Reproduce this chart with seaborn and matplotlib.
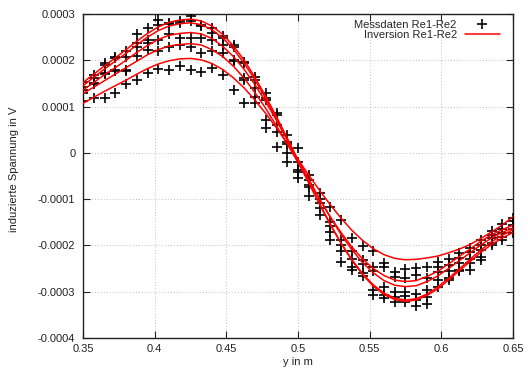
import numpy as np
import pandas as pd
import matplotlib
matplotlib.use("Agg")
import matplotlib.pyplot as plt
import seaborn as sns
from matplotlib.lines import Line2D
from matplotlib.ticker import FixedLocator, FixedFormatter

# ---------------- data (voltages in microvolt) ----------------
pos_m = [0.35, 0.3575, 0.365, 0.3725, 0.38, 0.3875, 0.395, 0.4025, 0.41, 0.4175,
         0.425, 0.4325, 0.44, 0.4475, 0.455, 0.4625, 0.47, 0.4775, 0.485, 0.4925,
         0.5, 0.5075, 0.515, 0.5225, 0.53, 0.5375, 0.545, 0.5525, 0.56, 0.5675,
         0.575, 0.5825, 0.59, 0.5975, 0.605, 0.6125, 0.62, 0.6275, 0.635, 0.6425, 0.65]

inv_1 = [152, 170, 188, 205, 223, 241, 258, 272, 282, 287, 289, 285, 274, 256, 231, 200, 163, 122, 78, 32,
         -16, -64, -110, -154, -195, -232, -263, -288, -306, -317, -321, -318, -308, -294, -275, -255, -235,
         -215, -198, -184, -172]
inv_2 = [145, 163, 181, 198, 215, 233, 250, 264, 274, 279, 281, 277, 266, 248, 224, 193, 158, 117, 74, 28,
         -19, -65, -111, -155, -195, -230, -261, -285, -303, -314, -318, -315, -305, -290, -271, -251, -230,
         -210, -192, -178, -166]
inv_3 = [136, 152, 169, 184, 200, 217, 232, 245, 254, 258, 260, 257, 247, 230, 208, 180, 147, 110, 70, 28,
         -15, -57, -99, -139, -176, -209, -237, -259, -276, -286, -289, -287, -278, -266, -250, -233, -216,
         -199, -184, -172, -162]
inv_4 = [128, 142, 156, 170, 184, 198, 212, 223, 231, 234, 236, 233, 223, 208, 187, 161, 130, 96, 58, 19,
         -21, -61, -100, -138, -172, -203, -229, -250, -265, -275, -278, -276, -267, -256, -240, -224, -208,
         -191, -177, -166, -156]
inv_5 = [107, 120, 133, 145, 157, 170, 182, 192, 199, 203, 204, 201, 193, 180, 162, 140, 114, 85, 54, 20,
         -14, -48, -81, -112, -141, -167, -189, -207, -220, -228, -231, -230, -227, -223, -216, -208, -198,
         -185, -171, -156, -138]

mess_1 = [154, 168, 194, 208, 221, 257, 270, 287, 280, 284, 295, 276, 269, 252, 232, 196, 164, 129, 86, 39,
          10, -48, -87, -118, -145, -184, -202, -213, -239, -257, -252, -248, -246, -235, -230, -217, -205,
          -188, -168, -153, -140]
mess_2 = [142, 162, 190, 204, 208, 237, 243, 276, 278, 280, 284, 273, 258, 248, 229, 194, 157, 118, 82, 24,
          -20, -58, -100, -150, -188, -213, -231, -246, -246, -268, -270, -263, -270, -246, -242, -228, -215,
          -200, -177, -165, -148]
mess_3 = [136, 150, 172, 180, 180, 228, 237, 244, 257, 248, 248, 248, 244, 233, 201, 161, 140, 114, 60, 20,
          -37, -70, -109, -159, -200, -230, -240, -255, -290, -300, -300, -305, -296, -258, -256, -239, -230,
          -210, -185, -174, -156]
mess_4 = [130, 148, 170, 176, 176, 209, 222, 220, 228, 233, 229, 215, 219, 215, 198, 158, 120, 71, 46, -1,
          -41, -73, -120, -170, -213, -246, -260, -296, -308, -311, -310, -318, -312, -274, -271, -253, -238,
          -225, -195, -182, -165]
mess_5 = [111, 118, 118, 130, 148, 157, 172, 182, 180, 187, 180, 175, 183, 168, 136, 107, 107, 53, 13, -19,
          -55, -93, -135, -188, -235, -253, -267, -307, -313, -322, -322, -330, -326, -289, -275, -256, -253,
          -231, -199, -188, -174]

x_ticks = [0.35, 0.4, 0.45, 0.5, 0.55, 0.6, 0.65]
x_tick_labels = ["0.35", "0.4", "0.45", "0.5", "0.55", "0.6", "0.65"]
y_ticks = [-0.0004, -0.0003, -0.0002, -0.0001, 0.0, 0.0001, 0.0002, 0.0003]
y_tick_labels = ["-0.0004", "-0.0003", "-0.0002", "-0.0001", "0", "0.0001", "0.0002", "0.0003"]

legend_labels = ["Messdaten Re1-Re2", "Inversion Re1-Re2"]
x_label = "y in m"
y_label = "induzierte Spannung in V"

UV = 1e-6

# ---------------- plot ----------------
sns.set_theme(style="ticks")
plt.rcParams['font.family'] = ['Liberation Sans', 'DejaVu Sans']

fig = plt.figure(figsize=(5.28, 3.71), dpi=100)
ax = fig.add_axes([83 / 528, 33 / 371, 430 / 528, 324 / 371])

mess = [mess_1, mess_2, mess_3, mess_4, mess_5]
df_m = pd.DataFrame({
    "pos": pos_m * len(mess),
    "U": np.concatenate([np.array(m, dtype=float) for m in mess]) * UV,
})
sns.scatterplot(data=df_m, x="pos", y="U", marker="+", color="black", s=42,
                linewidth=1.2, legend=False, ax=ax, zorder=3)

for inv in [inv_1, inv_2, inv_3, inv_4, inv_5]:
    sns.lineplot(x=pos_m, y=np.array(inv, dtype=float) * UV, color="red", lw=1.1,
                 sort=False, estimator=None, legend=False, ax=ax, zorder=4)

ax.set_xlim(0.35, 0.65)
ax.set_ylim(-0.0004, 0.0003)
ax.xaxis.set_major_locator(FixedLocator(x_ticks))
ax.xaxis.set_major_formatter(FixedFormatter(x_tick_labels))
ax.yaxis.set_major_locator(FixedLocator(y_ticks))
ax.yaxis.set_major_formatter(FixedFormatter(y_tick_labels))

ax.grid(True, color="#c0c0c0", linestyle=(0, (1, 2)), linewidth=0.7)
ax.tick_params(direction="in", top=True, right=True, length=5, width=0.8,
               labelsize=8, colors="#222222")
ax.tick_params(axis="y", pad=5.5)
ax.tick_params(axis="x", pad=4)
for sp in ax.spines.values():
    sp.set_visible(True)
    sp.set_color("#222222")
    sp.set_linewidth(1.0)

ax.set_xlabel(x_label, fontsize=8, color="#222222")
ax.set_ylabel(y_label, fontsize=8, color="#222222")
ax.xaxis.set_label_coords(0.5, -0.058)
ax.yaxis.set_label_coords(-0.148, 0.52)

handles = [Line2D([], [], marker="+", color="black", linestyle="none", markersize=7, mew=1.2),
           Line2D([], [], color="red", lw=1.1)]
ax.legend(handles, legend_labels, loc="upper right", bbox_to_anchor=(0.97, 0.983),
          frameon=False, markerfirst=False, fontsize=8, handlelength=3.2,
          handletextpad=0.7, labelspacing=0.05, borderaxespad=0, borderpad=0)

fig.savefig("out.png", dpi=100)
